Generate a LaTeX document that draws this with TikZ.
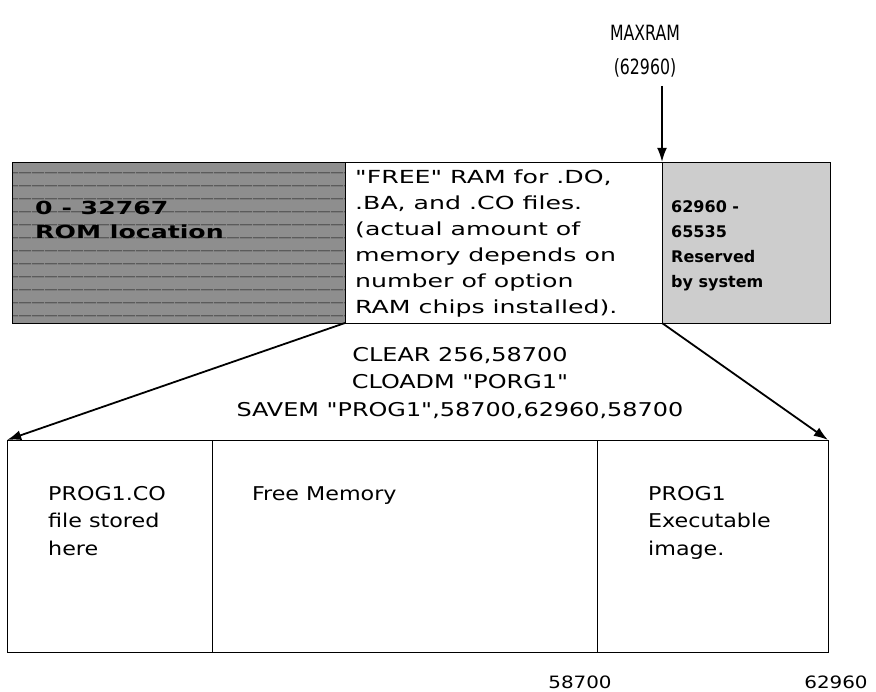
\documentclass[tikz,border=0pt]{standalone}
\usepackage{fontspec}
\setmainfont{DejaVu Sans}
\newfontfamily\widefont[FakeStretch=1.4]{DejaVu Sans}
\newfontfamily\narrowfont[FakeStretch=1.3]{DejaVu Sans Condensed}
\newfontfamily\cmdfont[FakeStretch=1.4]{DejaVu Sans Condensed}
\newfontfamily\tallfont[FakeStretch=0.75]{DejaVu Sans}
\usetikzlibrary{arrows.meta,positioning,patterns.meta}
\definecolor{romgray}{HTML}{8E8E8E}
\definecolor{sysgray}{HTML}{CDCDCD}

\begin{document}
\begin{tikzpicture}[x=1pt, y=-1pt,
  every node/.style={font=\widefont\fontsize{18}{26}\selectfont, align=left},
  cell/.style={draw=black, inner sep=0pt, outer sep=0pt, minimum height=161pt},
  slot/.style={draw=black, inner sep=0pt, outer sep=0pt, minimum height=212pt},
  txt/.style={anchor=north west, inner sep=0pt},
  thin txt/.style={inner sep=0pt, font=\narrowfont\fontsize{19}{27.5}\selectfont},
  arr/.style={-{Latex[length=5mm,width=3.5mm]}, line width=1.8pt}
]
\useasboundingbox (0,0) rectangle (876,692);
% memory map before loading
\node[cell, minimum width=333pt, anchor=north west, fill=romgray,
  postaction={pattern={Lines[angle=0,distance=13pt,line width=0.6pt]}}] (rom) at (12,162) {};
\node[cell, minimum width=317pt, right=0pt of rom] (free) {};
\node[cell, minimum width=168pt, right=0pt of free, fill=sysgray] (sys) {};
\node[txt, font=\widefont\bfseries\fontsize{18}{24}\selectfont] (romtxt) at (35,201) {0 - 32767\\ROM location};
\node[txt] (freetxt) at (355,170) {"FREE" RAM for .DO,\\.BA, and .CO files.\\(actual amount of\\memory depends on\\number of option\\RAM chips installed).};
\node[txt, font=\bfseries\fontsize{16}{25}\selectfont] (systxt) at (671,200) {62960 -\\65535\\Reserved\\by system};
% MAXRAM pointer
\node[inner sep=0pt, align=center, font=\tallfont\fontsize{21}{34}\selectfont] (maxram) at (645,51) {MAXRAM\\(62960)};
\coordinate (maxtop) at (662,86);
\draw[arr] (maxtop) -- (sys.north west);
% commands
\node[thin txt, align=center, font=\cmdfont\fontsize{19}{27.5}\selectfont] (cmds) at (460,383) {CLEAR 256,58700\\CLOADM "PORG1"\\SAVEM "PROG1",58700,62960,58700};
% memory map after loading
\node[slot, minimum width=205pt, anchor=north west] (cofile) at (7,440) {};
\node[slot, minimum width=385pt, right=0pt of cofile] (freemem) {};
\node[slot, minimum width=231pt, right=0pt of freemem] (image) {};
\node[thin txt, txt] (cotxt) at (48,486) {PROG1.CO\\file stored\\here};
\node[thin txt, txt] (freememtxt) at (252,486) {Free Memory};
\node[thin txt, txt] (imagetxt) at (648,486) {PROG1\\Executable\\image.};
\node[thin txt, font=\narrowfont\fontsize{17}{20}\selectfont] (lowaddr) at (580,682) {58700};
\node[thin txt, font=\narrowfont\fontsize{17}{20}\selectfont] (highaddr) at (836,682) {62960};
\draw[arr] (rom.south east) -- (cofile.north west);
\draw[arr] (sys.south west) -- (image.north east);
\end{tikzpicture}
\end{document}
